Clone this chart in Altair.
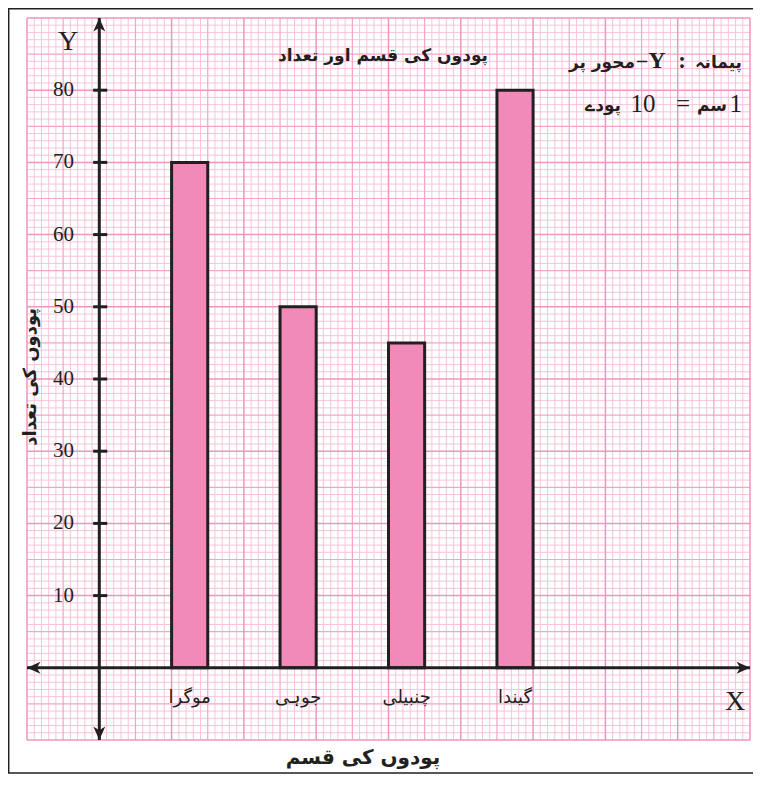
import altair as alt
import numpy as np
import pandas as pd

# ---- data ----
plants = ["موگرا", "جوہی", "چنبیلی", "گیندا"]
counts = [70, 50, 45, 80]
y_ticks = [10, 20, 30, 40, 50, 60, 70, 80]
title_text = "پودوں کی قسم اور تعداد"
x_title = "پودوں کی قسم"
y_title = "پودوں کی تعداد"
# scale note, split into its visual runs (right to left)
note1 = ["پیمانہ", ":", "Y", "–", "محور پر"]
note2 = ["1", "سم", "=", "10", "پودے"]

# ---- layout ----
W, H = 723, 722
PX_X, PX_Y = W / 10.0, H / 100.0          # pixels per x unit (cm), per y unit
OX, OY = 72.3, 649.0                       # origin in plot pixels
XS = alt.Scale(domain=[-1, 9], nice=False, zero=False)
YS = alt.Scale(domain=[-10, 90], nice=False, zero=False)
INK = "#231f20"
URDU = "DejaVu Sans"
SERIF = "Liberation Serif"


def X(f):
    return alt.X(f, type="quantitative", scale=XS, axis=None)


def Y(f):
    return alt.Y(f, type="quantitative", scale=YS, axis=None)


def ux(px):   # page pixel -> x units
    return (px - 27 - OX) / PX_X


def uy(py):   # page pixel -> y units
    return (18 + OY - py) / PX_Y


# graph paper lines
k = np.arange(0, 101)
gx = pd.DataFrame({"gx": -1 + k * 0.1, "k": k})
gy = pd.DataFrame({"gy": -10 + k * 1.0, "k": k})


def vlines(sel, color, w):
    return alt.Chart(gx[sel(gx.k)]).mark_rule(color=color, strokeWidth=w).encode(x=X("gx"))


def hlines(sel, color, w):
    return alt.Chart(gy[sel(gy.k)]).mark_rule(color=color, strokeWidth=w).encode(y=Y("gy"))


minor = lambda s: (s % 5) != 0
mid = lambda s: ((s % 5) == 0) & ((s % 10) != 0)
major = lambda s: (s % 10) == 0

grid = [
    vlines(minor, "#f8bdd6", 0.9), hlines(minor, "#f8bdd6", 0.9),
    vlines(mid, "#f4a4c6", 1.2), hlines(mid, "#f4a4c6", 1.2),
    vlines(major, "#f195bf", 1.5), hlines(major, "#f195bf", 1.5),
]

# bars: each bar 0.5 cm wide, 1.5 cm apart, starting 1 cm from the Y axis
bars_df = pd.DataFrame({
    "plant": plants,
    "count": counts,
    "x0": [1 + 1.5 * i for i in range(len(plants))],
})
bars_df["x1"] = bars_df["x0"] + 0.5
bars_df["xc"] = bars_df["x0"] + 0.25
bars_df["zero"] = 0
bars_df["ly"] = uy(697)

bars = alt.Chart(bars_df).mark_rect(fill="#f28ab9", stroke=INK, strokeWidth=3).encode(
    x=X("x0"), x2=alt.X2("x1"), y=Y("zero"), y2=alt.Y2("count")
)
bar_labels = alt.Chart(bars_df).mark_text(font=URDU, fontSize=18, color=INK, baseline="middle", align="center").encode(
    x=X("xc"), y=Y("ly"), text="plant"
)

# axes
axis_df = pd.DataFrame({"ax0": [0], "ay0": [-10], "ay1": [90], "bx0": [-1], "bx1": [9], "by": [0]})
y_axis = alt.Chart(axis_df).mark_rule(color=INK, strokeWidth=3).encode(x=X("ax0"), y=Y("ay0"), y2=alt.Y2("ay1"))
x_axis = alt.Chart(axis_df).mark_rule(color=INK, strokeWidth=3).encode(x=X("bx0"), x2=alt.X2("bx1"), y=Y("by"))

tick_df = pd.DataFrame({"v": y_ticks})
tick_df["t0"] = -0.085
tick_df["t1"] = 0.11
tick_df["lx"] = ux(74)
ticks = alt.Chart(tick_df).mark_rule(color=INK, strokeWidth=3).encode(x=X("t0"), x2=alt.X2("t1"), y=Y("v"))
tick_labels = alt.Chart(tick_df).mark_text(font=SERIF, fontSize=21, color=INK, align="right", baseline="middle").encode(
    x=X("lx"), y=Y("v"), text=alt.Text("v:Q")
)

arrow_path = "M0,-1 L0.8,0.8 L0,0.3 L-0.8,0.8 Z"
arr_df = pd.DataFrame({
    "x": [0, 0, -1 + 7.5 / PX_X, 9 - 7.5 / PX_X],
    "y": [90 - 7.5 / PX_Y, -10 + 7.5 / PX_Y, 0, 0],
    "ang": [0, 180, 270, 90],
})
arrows = alt.Chart(arr_df).mark_point(shape=arrow_path, filled=True, size=225, color=INK, opacity=1, strokeWidth=0).encode(
    x=X("x"), y=Y("y"), angle=alt.Angle("ang:Q", scale=None)
)


# texts
def text_layer(rows, **kw):
    df = pd.DataFrame(rows, columns=["x", "y", "t"])
    return alt.Chart(df).mark_text(color=INK, baseline="middle", **kw).encode(x=X("x"), y=Y("y"), text="t:N")


axis_letters = text_layer([[ux(68), uy(41), "Y"], [ux(735), uy(701), "X"]], font=SERIF, fontSize=28, align="center")
title = text_layer([[ux(383), uy(55), title_text]], font=URDU, fontSize=17, fontWeight="bold", align="center")

# scale note, line 1
n1_urdu_r = text_layer([[ux(742), uy(62), note1[0]]], font=URDU, fontSize=17, fontWeight="bold", align="right")
n1_colon = text_layer([[ux(682), uy(60), note1[1]]], font=SERIF, fontSize=23, fontWeight="bold", align="center")
n1_y = text_layer([[ux(657), uy(60), note1[2]]], font=SERIF, fontSize=24, fontWeight="bold", align="center")
n1_dash = text_layer([[ux(642), uy(60), note1[3]]], font=SERIF, fontSize=20, fontWeight="bold", align="center")
n1_urdu_l = text_layer([[ux(635), uy(62), note1[4]]], font=URDU, fontSize=17, fontWeight="bold", align="right")
# scale note, line 2
n2_one = text_layer([[ux(742), uy(103), note2[0]]], font=SERIF, fontSize=25, align="right")
n2_cm = text_layer([[ux(727), uy(105), note2[1]]], font=URDU, fontSize=17, fontWeight="bold", align="right")
n2_eq = text_layer([[ux(683), uy(103), note2[2]]], font=SERIF, fontSize=25, align="center")
n2_ten = text_layer([[ux(643), uy(103), note2[3]]], font=SERIF, fontSize=25, align="center")
n2_pl = text_layer([[ux(621), uy(105), note2[4]]], font=URDU, fontSize=17, fontWeight="bold", align="right")

xt = text_layer([[ux(363), uy(757), x_title]], font=URDU, fontSize=20, fontWeight="bold", align="center")
yt = text_layer([[ux(31), uy(376), y_title]], font=URDU, fontSize=18, fontWeight="bold", align="center", angle=270)

# outer frame (left, top, bottom sides; the right side lies outside the picture)
frame = alt.Chart(pd.DataFrame({"a": [0]})).mark_rect(filled=False, stroke=INK, strokeWidth=1.5).encode(
    x=alt.value(-18.3), x2=alt.value(745), y=alt.value(-9.2), y2=alt.value(755)
)

chart = alt.layer(
    *grid, bars, y_axis, x_axis, ticks, arrows, tick_labels, bar_labels,
    axis_letters, title,
    n1_urdu_r, n1_colon, n1_y, n1_dash, n1_urdu_l,
    n2_one, n2_cm, n2_eq, n2_ten, n2_pl,
    xt, yt, frame
).properties(
    width=W, height=H,
    autosize=alt.AutoSizeParams(type="none"),
    padding={"left": 19, "top": 10, "right": 3, "bottom": 34},
    background="white",
).configure_view(stroke=None)

chart.save("out.html", embed_options={"renderer": "svg", "actions": False})
